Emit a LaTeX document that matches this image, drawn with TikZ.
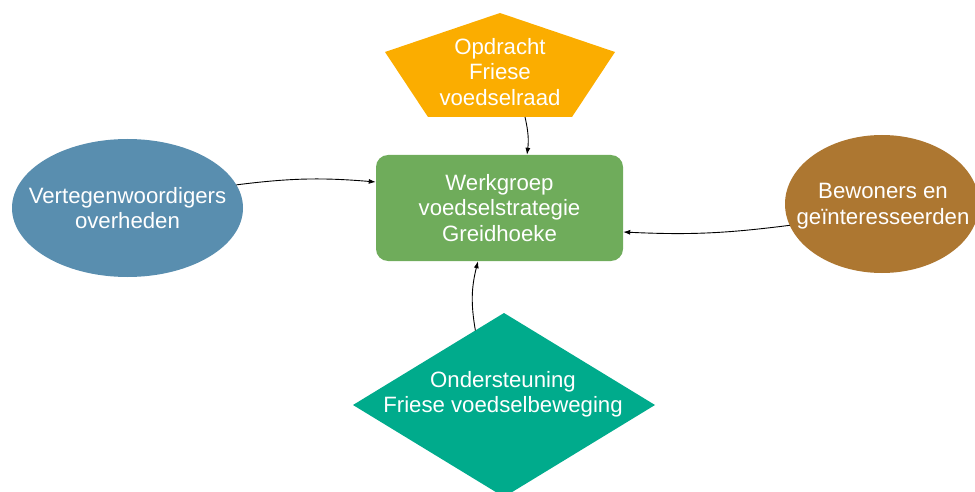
\documentclass[tikz,border=0pt]{standalone}
\usepackage{fontspec}
\setmainfont{Liberation Sans}
\usetikzlibrary{arrows.meta,positioning,shapes.geometric}
\definecolor{opdrachtkleur}{RGB}{251,173,0}
\definecolor{overheidkleur}{RGB}{89,142,175}
\definecolor{werkgroepkleur}{RGB}{111,172,91}
\definecolor{bewonerkleur}{RGB}{173,119,49}
\definecolor{steunkleur}{RGB}{0,171,140}

\begin{document}
\begin{tikzpicture}[x=1pt,y=1pt,
        tekst/.style={text=white, align=center, font=\fontsize{22.2}{25.5}\selectfont},
        ovaal/.style={ellipse, inner sep=0pt, outer sep=0pt, minimum height=138pt},
        pijl/.style={-{Latex[length=7pt,width=5pt]}, line width=0.9pt}]
        \useasboundingbox (0,0) rectangle (975,491);
        % midden
        \node[tekst, fill=werkgroepkleur, rounded corners=12pt, minimum width=247pt, minimum height=106pt, inner sep=0pt] (werkgroep) at (499.5,283) {Werkgroep\\voedselstrategie\\Greidhoeke};
        % opdracht (vijfhoek)
        \fill[opdrachtkleur] (500,478) -- (615,439) -- (572,374) -- (428,374) -- (385,439) -- cycle;
        \coordinate (opdracht-s) at (525,374);
        \node[tekst] (opdracht) at (500,419) {Opdracht\\Friese\\voedselraad};
        % links en rechts
        \node[ovaal, fill=overheidkleur, minimum width=231pt] (overheden) at (127.5,283) {};
        \node[tekst] (overheden-tekst) at (overheden) {Vertegenwoordigers\\overheden};
        \node[ovaal, fill=bewonerkleur, minimum width=194pt] (bewoners) at (882,287) {};
        \node[tekst] (bewoners-tekst) at (883,285) {Bewoners en\\geïnteresseerden};
        % onder
        \node[diamond, fill=steunkleur, inner sep=0pt, outer sep=0pt, minimum width=302pt, minimum height=184pt] (steun) at (504,86) {};
        \node[tekst] (steun-tekst) at (503,96.5) {Ondersteuning\\Friese voedselbeweging};

        \draw[pijl] (opdracht-s) to[bend left=10] ([xshift=27.5pt]werkgroep.north);
        \draw[pijl] (overheden.12) to[bend left=6] ([yshift=26pt]werkgroep.west);
        \draw[pijl] (bewoners.193.6) to[bend left=5] ([yshift=-24pt]werkgroep.east);
        \draw[pijl] (steun.111) to[bend left=12] ([xshift=-21.5pt]werkgroep.south);
\end{tikzpicture}
\end{document}
